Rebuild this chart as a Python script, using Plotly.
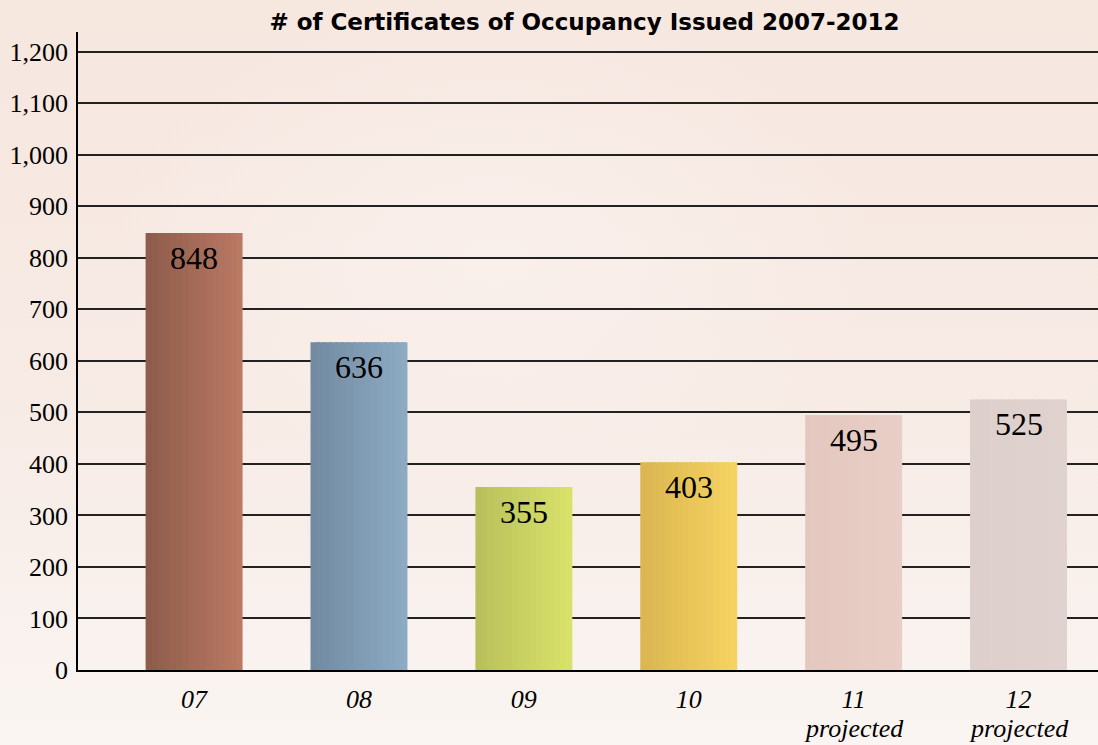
import base64
import plotly.graph_objects as go

# data
years = ["07", "08", "09", "10", "11", "12"]
projected = [False, False, False, False, True, True]
certificates = [848, 636, 355, 403, 495, 525]
y_ticks = [0, 100, 200, 300, 400, 500, 600, 700, 800, 900, 1000, 1100, 1200]

# left / right colour of each bar's horizontal gradient
bar_left = ["#8d5b4b", "#718aa1", "#b8bf5a", "#dab551", "#e4c8bf", "#ddcfcb"]
bar_right = ["#ba7a64", "#8eabc4", "#d9e36b", "#f6d461", "#e8cec6", "#e0d3cf"]

serif = "Liberation Serif, Times New Roman, serif"
sans = "DejaVu Sans, Arial, sans-serif"


def mix(c1, c2, t):
    a = [int(c1[i:i + 2], 16) for i in (1, 3, 5)]
    b = [int(c2[i:i + 2], 16) for i in (1, 3, 5)]
    return "rgb(%d,%d,%d)" % tuple(round(a[j] + (b[j] - a[j]) * t) for j in range(3))


fig = go.Figure()

# gradient bars built from thin overlapping slices
bar_w = 0.588
n_slices = 16
slice_w = bar_w / n_slices
for k in range(n_slices):
    t = (k + 0.5) / n_slices
    fig.add_trace(go.Bar(
        x=years, y=certificates,
        width=slice_w * (1.6 if k < n_slices - 1 else 1.0),
        offset=-bar_w / 2 + k * slice_w,
        marker=dict(color=[mix(l, r, t) for l, r in zip(bar_left, bar_right)], line_width=0),
        hoverinfo="skip", showlegend=False,
    ))

# value labels near the top of each bar
for i, v in enumerate(certificates):
    fig.add_annotation(x=i, y=v, yshift=-25, yanchor="middle", showarrow=False,
                       text=str(v), font=dict(family=serif, size=32, color="black"))

# "projected" under the last two year labels
for i, p in enumerate(projected):
    if p:
        fig.add_annotation(x=i, xref="x", y=0, yref="paper", yshift=-58, yanchor="middle",
                           showarrow=False, text="projected",
                           font=dict(family=serif, size=26, color="black", style="italic"))

# soft peach backdrop
svg = ('<svg xmlns="http://www.w3.org/2000/svg" width="1098" height="745">'
       '<defs><linearGradient id="g" x1="0" y1="0" x2="0" y2="1">'
       '<stop offset="0" stop-color="#f6e7df"/><stop offset="0.55" stop-color="#f7ebe5"/>'
       '<stop offset="1" stop-color="#faf5f2"/></linearGradient>'
       '<radialGradient id="r" cx="0.45" cy="0.35" r="0.35">'
       '<stop offset="0" stop-color="#faf1ed" stop-opacity="0.8"/>'
       '<stop offset="1" stop-color="#faf1ed" stop-opacity="0"/></radialGradient></defs>'
       '<rect width="1098" height="745" fill="url(#g)"/>'
       '<rect width="1098" height="745" fill="url(#r)"/></svg>')
fig.add_layout_image(
    source="data:image/svg+xml;base64," + base64.b64encode(svg.encode()).decode(),
    xref="paper", yref="paper", x=-78 / 1020, y=1 + 32 / 638,
    sizex=1098 / 1020, sizey=745 / 638, sizing="stretch", layer="below",
    xanchor="left", yanchor="top",
)

fig.update_layout(
    width=1098, height=745,
    margin=dict(l=78, r=0, t=32, b=75),
    paper_bgcolor="#f7ede7",
    plot_bgcolor="rgba(0,0,0,0)",
    barmode="overlay",
    title=dict(text="<b># of Certificates of Occupancy Issued 2007-2012</b>",
               font=dict(family=sans, size=23, color="black"),
               xref="container", x=584.5 / 1098, xanchor="center",
               yref="container", y=1 - 22 / 745, yanchor="middle"),
)
fig.update_xaxes(
    type="category", range=[-0.704, 5.482], automargin=False,
    tickvals=years, ticktext=years,
    tickfont=dict(family=serif, size=26, color="black", style="italic"),
    showline=True, linecolor="black", linewidth=1.5,
    showgrid=False, ticks="", ticklabelstandoff=5,
)
fig.update_yaxes(
    range=[0, 1238], tickvals=y_ticks, tickformat=",", automargin=False,
    tickfont=dict(family=serif, size=26, color="black"),
    showline=True, linecolor="black", linewidth=1.5,
    showgrid=True, gridcolor="#222222", gridwidth=1.6,
    zeroline=False, ticks="", ticklabelstandoff=3,
)

fig.write_html("out.html", config={"displayModeBar": False},
               post_script="document.body.style.margin='0';document.body.style.overflow='hidden';")
